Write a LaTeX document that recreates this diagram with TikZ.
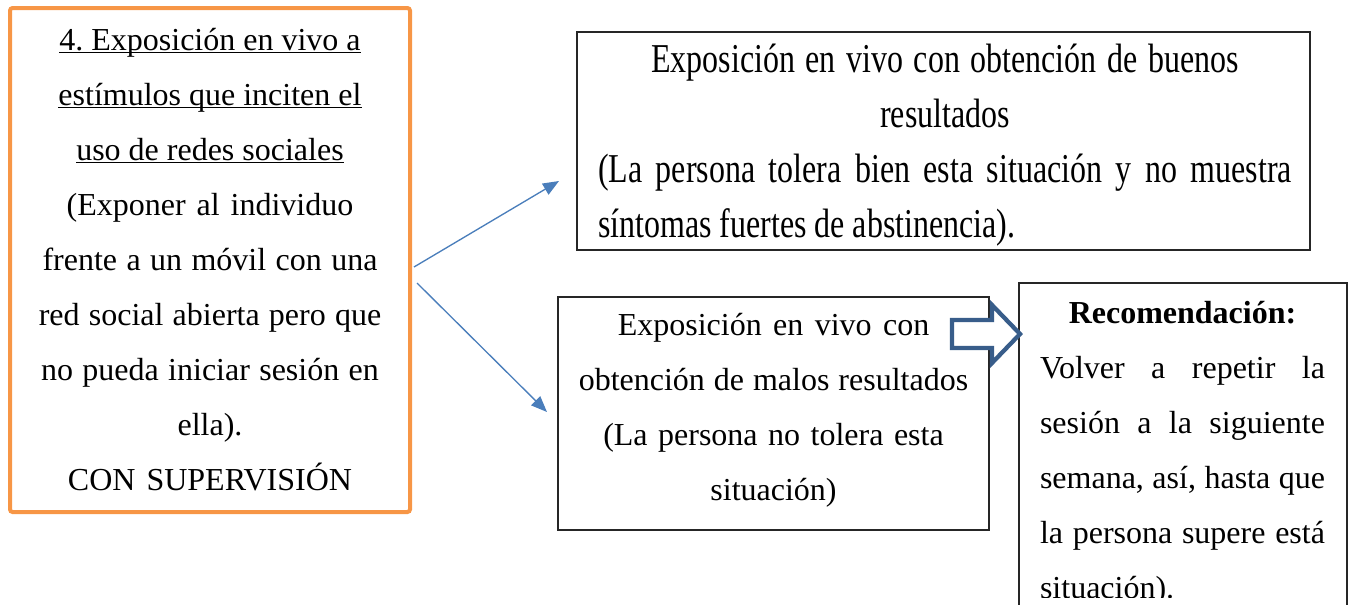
\documentclass[tikz,border=0pt]{standalone}
\usepackage{fontspec}
\setmainfont{Liberation Serif}
\newfontfamily\altafont[FakeStretch=0.78]{Liberation Serif}
\usepackage{xcolor}
\usetikzlibrary{arrows.meta, positioning}

\definecolor{naranja}{HTML}{F79646}
\definecolor{azulflecha}{HTML}{4A7EBB}
\definecolor{azulbloque}{HTML}{385D8A}

\newcommand{\subrayar}[1]{\leavevmode\setbox0\hbox{#1}\rlap{\rule[-2.6pt]{\wd0}{1.1pt}}\box0}
\newcommand{\espaciado}{\spaceskip=0pt\xspaceskip=0pt\frenchspacing}

\begin{document}
\begin{tikzpicture}[x=0.75pt, y=-0.75pt,
  texto/.style={anchor=base, inner sep=0pt, align=center, font=\fontsize{24pt}{41.25pt}\selectfont},
  marco/.style={draw=black!85, line width=1pt},
  flecha/.style={draw=azulflecha, line width=1pt, -{Triangle[length=12pt, width=9.5pt]}}]
\useasboundingbox (0,0) rectangle (1355,604);

% Paso 4 - recuadro naranja de la izquierda
\draw[naranja, line width=3pt, rounded corners=2pt] (10,8) rectangle (410,512);
\node[texto, text width=285pt] (exposicion) at (210,50) {\espaciado
  \subrayar{4. Exposición en vivo a}\\
  \subrayar{estímulos que inciten el}\\
  \subrayar{uso de redes sociales}\\
  (Exponer al individuo\\
  frente a un móvil con una\\
  red social abierta pero que\\
  no pueda iniciar sesión en\\
  ella).\\
  CON SUPERVISIÓN};

% Resultado bueno - recuadro de arriba
\draw[marco] (577,32) rectangle (1310,250);
\node[texto, text width=520.5pt, font=\altafont\fontsize{30.75pt}{41.25pt}\selectfont] (buenos) at (945,72) {\espaciado
  Exposición en vivo con obtención de buenos\\
  resultados\\
  \makebox[\linewidth][s]{(La persona tolera bien esta situación y no muestra}\\
  \makebox[\linewidth][l]{síntomas fuertes de abstinencia).}};

% Resultado malo - recuadro del medio
\draw[marco] (558,297) rectangle (989,530);
\node[texto, text width=315pt] (malos) at (773.5,335) {\espaciado
  Exposición en vivo con\\
  obtención de malos resultados\\
  (La persona no tolera esta\\
  situación)};

% Recomendación - recuadro de la derecha (cortado abajo)
\draw[marco] (1019,283) rectangle (1347,640);
\begin{scope}
\clip (1019,283) rectangle (1347,597);
\node[texto, text width=213.75pt] (recomendacion) at (1182.5,323) {\espaciado
  \textbf{Recomendación:}\\
  \makebox[\linewidth][s]{Volver a repetir la}\\
  \makebox[\linewidth][s]{sesión a la siguiente}\\
  \makebox[\linewidth][s]{semana, así, hasta que}\\
  \makebox[\linewidth][s]{la persona supere está}\\
  \makebox[\linewidth][l]{situación).}};
\end{scope}

% Flecha de bloque hacia la recomendación
\draw[azulbloque, fill=white, line width=3.2pt, line join=miter]
  (952,320) -- (992,320) -- (992,305) -- (1020,334) -- (992,363) -- (992,348) -- (952,348) -- cycle;

% Flechas finas desde el paso 4
\coordinate (salidaA) at (414,267);
\coordinate (llegadaA) at (559,181);
\coordinate (salidaB) at (417,283);
\coordinate (llegadaB) at (547,412);
\draw[flecha] (salidaA) -- (llegadaA);
\draw[flecha] (salidaB) -- (llegadaB);

\end{tikzpicture}
\end{document}
